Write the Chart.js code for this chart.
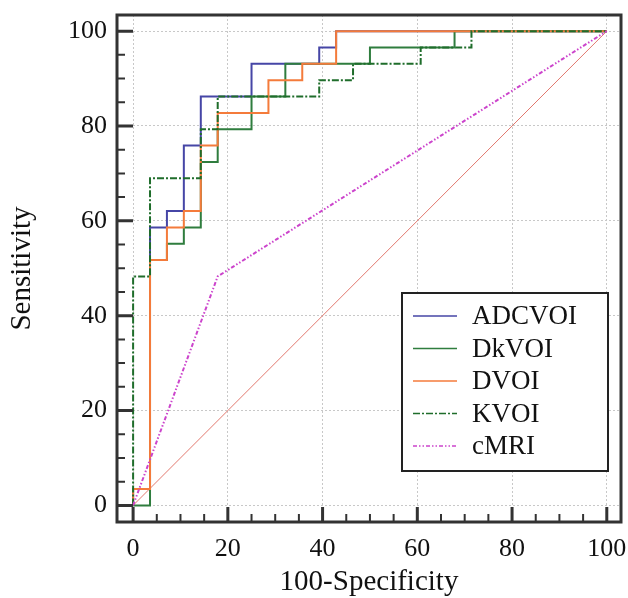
<!DOCTYPE html>
<html>
<head>
<meta charset="utf-8">
<title>ROC curves</title>
<script src="https://cdn.jsdelivr.net/npm/chart.js@4.4.0/dist/chart.umd.min.js"></script>
<style>
  html, body { margin: 0; padding: 0; background: #fff; }
  canvas { display: block; }
</style>
</head>
<body>
<canvas id="rocChart" width="628" height="598"></canvas>
<script>
//-------------------------------------------------------------
// Data (100-Specificity on x, Sensitivity on y)
//-------------------------------------------------------------
const adcX = [0, 0, 3.57, 3.57, 7.14, 7.14, 10.71, 10.71, 14.29, 14.29, 25, 25, 39.29, 39.29, 42.86, 42.86, 100];
const adcY = [0, 3.45, 3.45, 58.62, 58.62, 62.07, 62.07, 75.86, 75.86, 86.21, 86.21, 93.1, 93.1, 96.55, 96.55, 100, 100];

const dkX = [0, 3.57, 3.57, 7.14, 7.14, 10.71, 10.71, 14.29, 14.29, 17.86, 17.86, 25, 25, 32.14, 32.14, 50, 50, 67.86, 67.86, 100];
const dkY = [0, 0, 51.72, 51.72, 55.17, 55.17, 58.62, 58.62, 72.41, 72.41, 79.31, 79.31, 86.21, 86.21, 93.1, 93.1, 96.55, 96.55, 100, 100];

const dX = [0, 0, 3.57, 3.57, 7.14, 7.14, 10.71, 10.71, 14.29, 14.29, 17.86, 17.86, 28.57, 28.57, 35.71, 35.71, 42.86, 42.86, 100];
const dY = [0, 3.45, 3.45, 51.72, 51.72, 58.62, 58.62, 62.07, 62.07, 75.86, 75.86, 82.76, 82.76, 89.66, 89.66, 93.1, 93.1, 100, 100];

const kX = [0, 0, 3.57, 3.57, 14.29, 14.29, 17.86, 17.86, 39.29, 39.29, 46.43, 46.43, 60.71, 60.71, 71.43, 71.43, 100];
const kY = [0, 48.28, 48.28, 68.97, 68.97, 79.31, 79.31, 86.21, 86.21, 89.66, 89.66, 93.1, 93.1, 96.55, 96.55, 100, 100];

const cmriX = [0, 17.86, 100];
const cmriY = [0, 48.28, 100];

const diagX = [0, 100];
const diagY = [0, 100];

const xTickLabels = [0, 20, 40, 60, 80, 100];
const yTickLabels = [0, 20, 40, 60, 80, 100];
const minorTicks = [5, 10, 15, 25, 30, 35, 45, 50, 55, 65, 70, 75, 85, 90, 95];

const SERIF = "'Liberation Serif', 'Times New Roman', serif";
const INK = "#111";
const FRAME = "#333";

//-------------------------------------------------------------
// Helpers
//-------------------------------------------------------------
function toPoints(xs, ys) {
  return xs.map((x, i) => ({ x: x, y: ys[i] }));
}

function curve(label, xs, ys, color, dash, order) {
  return {
    label,
    data: toPoints(xs, ys),
    borderColor: color,
    backgroundColor: color,
    borderWidth: 2,
    borderDash: dash,
    pointRadius: 0,
    showLine: true,
    tension: 0,
    order,
  };
}

// fixed axis sizes, no extra room for overhanging tick labels
function fixSize(scale, key, size) {
  scale[key] = size;
  scale.paddingTop = 0;
  scale.paddingBottom = 0;
  scale.paddingLeft = 0;
  scale.paddingRight = 0;
}

//-------------------------------------------------------------
// Frame, inward ticks and boxed legend
//-------------------------------------------------------------
const framePlugin = {
  id: "frame",
  afterDraw(chart) {
    const ctx = chart.ctx;
    const a = chart.chartArea;
    const xs = chart.scales.x;
    const ys = chart.scales.y;
    ctx.save();
    ctx.strokeStyle = FRAME;

    // ticks on the bottom and left sides, pointing inward
    ctx.lineWidth = 3;
    ctx.beginPath();
    xTickLabels.forEach((v) => {
      const px = xs.getPixelForValue(v);
      ctx.moveTo(px, a.bottom);
      ctx.lineTo(px, a.bottom - 15);
    });
    yTickLabels.forEach((v) => {
      const py = ys.getPixelForValue(v);
      ctx.moveTo(a.left, py);
      ctx.lineTo(a.left + 16, py);
    });
    ctx.stroke();

    ctx.lineWidth = 2;
    ctx.beginPath();
    minorTicks.forEach((v) => {
      const px = xs.getPixelForValue(v);
      ctx.moveTo(px, a.bottom);
      ctx.lineTo(px, a.bottom - 8);
      const py = ys.getPixelForValue(v);
      ctx.moveTo(a.left, py);
      ctx.lineTo(a.left + 8, py);
    });
    ctx.stroke();

    // outer frame
    ctx.lineWidth = 3;
    ctx.strokeRect(a.left, a.top, a.right - a.left, a.bottom - a.top);

    // legend box
    const w = 206, h = 178;
    const bx = a.right - 13 - w;
    const by = a.bottom - 51 - h;
    ctx.fillStyle = "#fff";
    ctx.fillRect(bx, by, w, h);
    ctx.lineWidth = 2;
    ctx.strokeStyle = "#222";
    ctx.strokeRect(bx, by, w, h);

    ctx.font = "27px " + SERIF;
    ctx.textBaseline = "middle";
    ctx.textAlign = "left";
    const items = chart.data.datasets.filter((d) => d.label);
    items.forEach((d, i) => {
      const ry = by + 23 + i * 32.5;
      ctx.beginPath();
      ctx.strokeStyle = d.borderColor;
      ctx.lineWidth = 1.5;
      ctx.setLineDash(d.borderDash || []);
      ctx.moveTo(bx + 11, ry);
      ctx.lineTo(bx + 55, ry);
      ctx.stroke();
      ctx.setLineDash([]);
      ctx.fillStyle = INK;
      ctx.fillText(d.label, bx + 70, ry + 1);
    });
    ctx.restore();
  },
};

//-------------------------------------------------------------
// Chart
//-------------------------------------------------------------
const gridOpts = { color: "#c8c8c8", lineWidth: 1, drawTicks: false };
const borderOpts = { display: false, dash: [2, 2] };

new Chart(document.getElementById("rocChart"), {
  type: "scatter",
  data: {
    datasets: [
      curve("ADCVOI", adcX, adcY, "#4646a6", [], 5),
      curve("DkVOI", dkX, dkY, "#2f7d3e", [], 4),
      curve("DVOI", dX, dY, "#f47b3b", [], 3),
      curve("KVOI", kX, kY, "#1f6d2b", [7, 2, 2, 2], 2),
      curve("cMRI", cmriX, cmriY, "#cc44cc", [4, 2, 1.5, 2, 1.5, 2], 1),
      Object.assign(curve("", diagX, diagY, "#e2786e", [], 6), { borderWidth: 1 }),
    ],
  },
  options: {
    responsive: false,
    animation: false,
    layout: {
      autoPadding: false,
      padding: { top: 15, right: 7, left: 0, bottom: 0 },
    },
    plugins: {
      legend: { display: false },
      tooltip: { enabled: false },
    },
    scales: {
      x: {
        type: "linear",
        min: -3.4,
        max: 103,
        afterBuildTicks: (scale) => {
          scale.ticks = xTickLabels.map((v) => ({ value: v }));
        },
        afterFit: (scale) => fixSize(scale, "height", 76),
        grid: gridOpts,
        border: borderOpts,
        ticks: {
          color: INK,
          font: { family: SERIF, size: 26 },
          padding: 12,
          maxRotation: 0,
        },
        title: {
          display: true,
          text: "100-Specificity",
          color: INK,
          font: { family: SERIF, size: 29, lineHeight: 1.1 },
          padding: { top: 0, bottom: 0 },
        },
      },
      y: {
        type: "linear",
        min: -3.5,
        max: 103.4,
        afterBuildTicks: (scale) => {
          scale.ticks = yTickLabels.map((v) => ({ value: v }));
        },
        afterFit: (scale) => fixSize(scale, "width", 117),
        grid: gridOpts,
        border: borderOpts,
        ticks: {
          color: INK,
          font: { family: SERIF, size: 26 },
          padding: 10,
        },
        title: {
          display: true,
          text: "Sensitivity",
          color: INK,
          font: { family: SERIF, size: 29, lineHeight: 1.1 },
          padding: { top: 6, bottom: 0 },
        },
      },
    },
  },
  plugins: [framePlugin],
});
</script>
</body>
</html>
